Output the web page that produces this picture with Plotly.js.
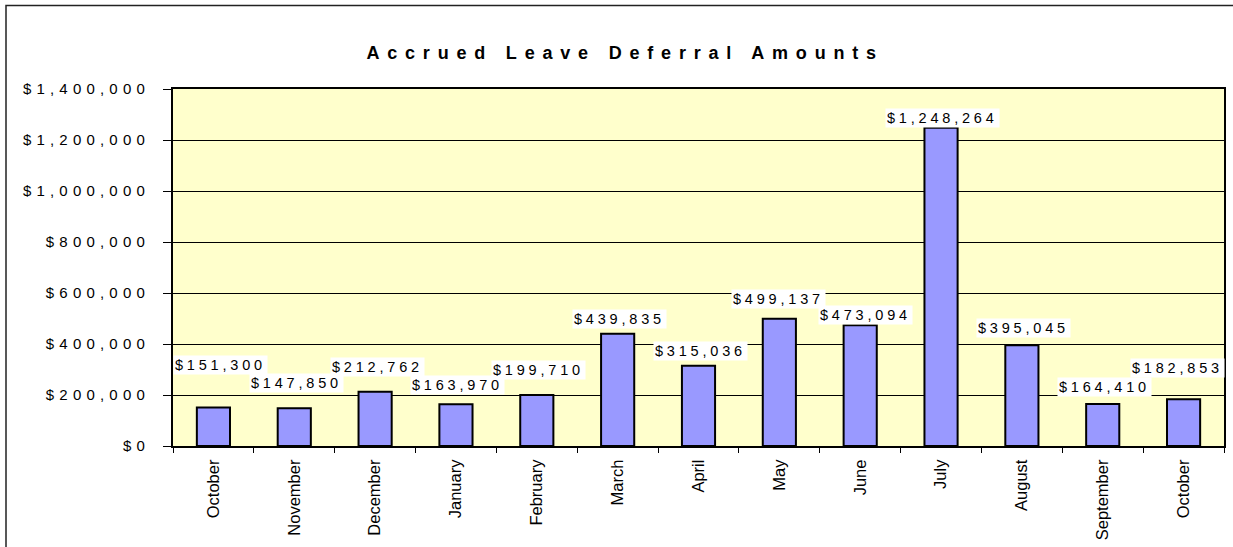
<!DOCTYPE html>
<html>
<head>
<meta charset="utf-8">
<script src="https://cdn.plot.ly/plotly-3.0.1.min.js"></script>
<style>
  html, body { margin: 0; padding: 0; background: #fff; }
  #chart { width: 1233px; height: 547px; }
</style>
</head>
<body>
<div id="chart"></div>
<script>
// ---- data ----
const months = ["October", "November", "December", "January", "February", "March", "April",
                "May", "June", "July", "August", "September", "October"];
const amounts = [151300, 147850, 212762, 163970, 199710, 439835, 315036,
                 499137, 473094, 1248264, 395045, 164410, 182853];
const yTickValues = [0, 200000, 400000, 600000, 800000, 1000000, 1200000, 1400000];
const chartTitle = "Accrued Leave Deferral Amounts";

// label placement tweaks (pixels), as in the original Excel chart
const labelRise = [42, 25, 25, 19, 25, 15, 15, 20, 10, 10, 17, 17, 31];
const labelShiftX = [5, 0, 0, 0, 0, 0, 0, -3, 3, -1, 0, 0, -8];

const FONT = "Arial, 'Liberation Sans', Helvetica, sans-serif";
function money(v) { return "$" + v.toLocaleString("en-US"); }
function spaced(t, px) { return '<span style="letter-spacing:' + px + 'px">' + t + '</span>'; }

const xIdx = months.map((m, i) => i);
const boundaries = [];
for (let i = 0; i <= months.length; i++) boundaries.push(i - 0.5);

const trace = {
  type: "bar",
  x: xIdx,
  y: amounts,
  width: 0.41,
  marker: { color: "#9999FF", line: { color: "#000000", width: 2 } },
  hoverinfo: "skip"
};

const annotations = amounts.map((v, i) => ({
  x: i, y: v, xref: "x", yref: "y",
  text: spaced(money(v), 3.8),
  showarrow: false,
  xanchor: "center", yanchor: "middle",
  yshift: labelRise[i], xshift: labelShiftX[i] + 2,
  bgcolor: "#FFFFFF",
  borderpad: 1,
  font: { family: FONT, size: 14.5, color: "#000" }
}));

const layout = {
  width: 1233, height: 547,
  margin: { l: 173, r: 9, t: 89, b: 101, pad: 0 },
  paper_bgcolor: "#FFFFFF",
  plot_bgcolor: "#FFFFCC",
  showlegend: false,
  title: {
    text: "<b>" + spaced(chartTitle, 7.8) + "</b>",
    font: { family: FONT, size: 18, color: "#000" },
    x: 0.507, xref: "container", xanchor: "center",
    y: 1 - 53 / 547, yref: "container", yanchor: "middle"
  },
  xaxis: {
    range: [-0.5, months.length - 0.5],
    tickmode: "array",
    tickvals: xIdx,
    ticktext: months,
    tickangle: -90,
    ticks: "",
    ticklabelstandoff: 5,
    tickfont: { family: FONT, size: 16.5, color: "#000" },
    showline: true, linecolor: "#000", linewidth: 2, mirror: true,
    showgrid: false, zeroline: false,
    minor: { tickmode: "array", tickvals: boundaries, ticks: "outside", ticklen: 5, tickwidth: 1, tickcolor: "#000", showgrid: false }
  },
  yaxis: {
    range: [0, 1400000],
    tickmode: "array",
    tickvals: yTickValues,
    ticktext: yTickValues.map(v => spaced(money(v), 5.2)),
    ticks: "outside", ticklen: 8, tickwidth: 1, tickcolor: "#000",
    ticklabelstandoff: 10,
    tickfont: { family: FONT, size: 15, color: "#000" },
    showline: true, linecolor: "#000", linewidth: 2, mirror: true,
    showgrid: true, gridcolor: "#000", gridwidth: 1,
    zeroline: false
  },
  annotations: annotations,
  shapes: [{
    type: "rect", xref: "paper", yref: "paper",
    x0: (6 - 173) / 1051, x1: 2,
    y0: -1, y1: (446 - 5.5) / 357,
    line: { color: "#222", width: 1.5 },
    fillcolor: "rgba(0,0,0,0)",
    layer: "below"
  }]
};

Plotly.newPlot("chart", [trace], layout, { staticPlot: true, displayModeBar: false });
</script>
</body>
</html>
